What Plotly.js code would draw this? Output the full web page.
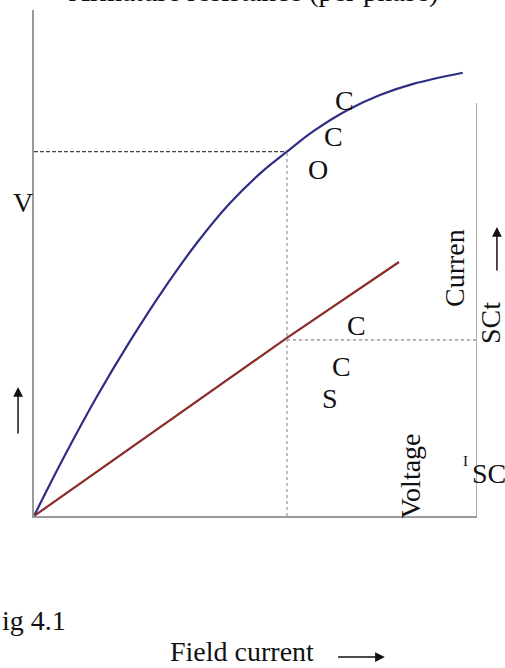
<!DOCTYPE html>
<html>
<head>
<meta charset="utf-8">
<script src="https://cdn.plot.ly/plotly-3.0.1.min.js"></script>
<style>
  html, body { margin: 0; padding: 0; background: #fff; }
  #chart { width: 505px; height: 668px; }
</style>
</head>
<body>
<div id="chart"></div>
<script>
// Open-circuit characteristic (OCC): field current vs generated voltage
var occField = [0, 0.65, 1.42, 2.17, 2.91, 3.68, 4.42, 5.17, 5.71, 6.30, 7.07, 7.81, 8.56, 9.68];
var occVolts = [0, 56, 118, 173, 223, 270, 309, 341, 360, 380, 401, 416, 427, 438];

// Short-circuit characteristic (SCC): field current vs armature current
var sccField = [0, 5.71, 8.24];
var sccCurrent = [0, 176, 251];

// Operating field current and the readings taken from both curves
var ifOperating = 5.71;
var vOc = 360;
var iSc = 174;

var serif = 'Liberation Serif, Times New Roman, serif';
var ink = '#111111';

var traces = [
  {
    x: occField, y: occVolts, mode: 'lines', name: 'OCC',
    line: { color: '#2e2e85', width: 2.2, shape: 'spline', smoothing: 1 },
    hoverinfo: 'skip'
  },
  {
    x: sccField, y: sccCurrent, mode: 'lines', name: 'SCC',
    line: { color: '#8a2c2c', width: 2.2 },
    hoverinfo: 'skip'
  }
];

// text placed on the axes' own scale (inside the plotting area)
function label(text, x, y, size, angle, extra) {
  var a = {
    text: text, x: x, y: y, xref: 'x', yref: 'y',
    showarrow: false, textangle: angle || 0,
    font: { family: serif, size: size, color: ink },
    xanchor: 'center', yanchor: 'middle'
  };
  if (extra) { for (var k in extra) a[k] = extra[k]; }
  return a;
}

// text placed relative to the plotting area (outside the axes)
function note(text, x, y, size, angle, extra) {
  var a = label(text, x, y, size, angle, extra);
  a.xref = 'paper';
  a.yref = 'paper';
  return a;
}

function arrow(x, y, ax, ay) {
  return {
    x: x, y: y, xref: 'paper', yref: 'paper', text: '',
    showarrow: true, arrowhead: 2, arrowsize: 1.3, arrowwidth: 1.5,
    arrowcolor: ink, axref: 'paper', ayref: 'paper', ax: ax, ay: ay
  };
}

var annotations = [
  note('Armature resistance (per phase)', 0.497, 1.0, 29, 0, { yanchor: 'bottom' }),
  label('C', 7.02, 411, 28),
  label('C', 6.75, 375, 28),
  label('O', 6.41, 342, 28),
  note('V', -0.025, 0.619, 28),
  label('C', 7.27, 188, 28),
  label('C', 6.95, 148, 28),
  label('S', 6.68, 116, 28),
  label('Curren', 9.48, 245, 28, -90),
  note('SCt', 1.029, 0.381, 28, -90),
  label('Voltage', 8.51, 40, 28, -90),
  label('I', 9.75, 54, 15),
  label('SC', 9.85, 42, 28, 0, { xanchor: 'left' }),
  note('ig 4.1', -0.0767, -0.2075, 28, 0, { xanchor: 'left' }),
  note('Field current', 0.305, -0.3004, 28, 0, { xanchor: 'left', yanchor: 'bottom', borderpad: 0 }),
  arrow(-0.036, 0.255, -0.036, 0.160),
  arrow(1.045, 0.571, 1.045, 0.482),
  arrow(0.792, -0.2787, 0.683, -0.2787)
];

var shapes = [
  // right-hand current axis
  { type: 'line', xref: 'x', yref: 'y', x0: 10, x1: 10, y0: 0, y1: 408,
    line: { color: '#9a9a9a', width: 1.6 } },
  // voltage read-off at the operating field current
  { type: 'line', xref: 'x', yref: 'y', x0: 0, x1: ifOperating, y0: vOc, y1: vOc,
    line: { color: '#444444', width: 1.2, dash: '4px,2px' } },
  { type: 'line', xref: 'x', yref: 'y', x0: ifOperating, x1: ifOperating, y0: 0, y1: vOc,
    line: { color: '#b0b0b0', width: 1.6, dash: 'dot' } },
  // current read-off on the SCC
  { type: 'line', xref: 'x', yref: 'y', x0: ifOperating, x1: 10, y0: iSc, y1: iSc,
    line: { color: '#a8a8a8', width: 1.6, dash: 'dot' } }
];

var layout = {
  width: 505, height: 668,
  margin: { l: 34, r: 28, t: 10, b: 152, pad: 0 },
  paper_bgcolor: '#ffffff', plot_bgcolor: '#ffffff',
  showlegend: false,
  xaxis: {
    range: [0, 10], showgrid: false, zeroline: false, showticklabels: false,
    ticks: '', showline: true, linecolor: '#9a9a9a', linewidth: 1.6, fixedrange: true
  },
  yaxis: {
    range: [0, 500], showgrid: false, zeroline: false, showticklabels: false,
    ticks: '', showline: true, linecolor: '#9a9a9a', linewidth: 1.6, fixedrange: true
  },
  annotations: annotations,
  shapes: shapes
};

Plotly.newPlot('chart', traces, layout, { displayModeBar: false, staticPlot: true });
</script>
</body>
</html>
